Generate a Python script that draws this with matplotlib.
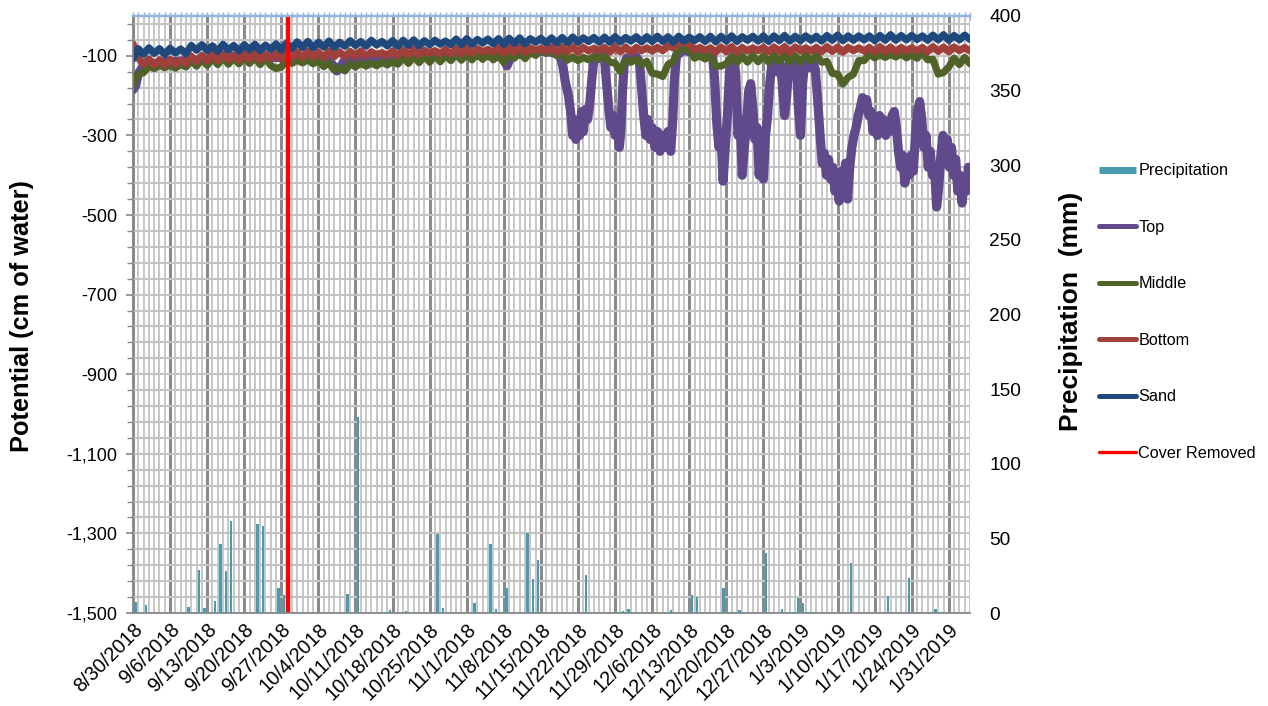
"""Soil water potential at four depths vs. daily precipitation, Aug 2018 - Feb 2019."""
import datetime as dt

import matplotlib
matplotlib.use("Agg")
import matplotlib.pyplot as plt
from matplotlib.lines import Line2D
from matplotlib.ticker import FixedLocator, FuncFormatter, MultipleLocator
import matplotlib.dates as mdates
import numpy as np

plt.rcParams["font.family"] = ["Liberation Sans", "DejaVu Sans"]

START = dt.datetime(2018, 8, 30)
END = dt.datetime(2019, 2, 4)
COVER_REMOVED_DAY = 29.25          # days after START

# daily readings, cm of water (index = days after 8/30/2018)
sand = [-108, -82, -96, -80, -94, -82, -97, -81, -93, -83,
        -95, -74, -86, -72, -87, -75, -89, -71, -86, -74,
        -88, -72, -85, -71, -87, -73, -84, -70, -86, -68,
        -82, -65, -79, -64, -80, -66, -78, -63, -79, -66,
        -76, -62, -74, -64, -76, -61, -73, -64, -75, -62,
        -76, -61, -74, -60, -75, -62, -72, -61, -71, -63,
        -72, -58, -72, -57, -71, -59, -68, -58, -70, -57,
        -71, -56, -69, -55, -70, -57, -66, -56, -68, -55,
        -68, -54, -67, -53, -66, -55, -64, -54, -66, -53,
        -66, -52, -65, -54, -63, -52, -65, -52, -64, -51,
        -64, -52, -66, -51, -63, -53, -62, -52, -64, -51,
        -65, -51, -63, -50, -64, -52, -61, -51, -63, -50,
        -64, -50, -62, -49, -63, -51, -62, -50, -61, -51,
        -63, -49, -61, -48, -62, -50, -61, -50, -60, -50,
        -62, -49, -61, -47, -61, -49, -60, -49, -59, -50,
        -61, -48, -60, -47, -61, -49, -60, -48, -59]

bottom = [-70, -106, -121, -108, -123, -110, -124, -109, -122, -111,
          -119, -101, -115, -99, -113, -97, -112, -96, -110, -98,
          -111, -95, -109, -94, -110, -96, -108, -93, -109, -92,
          -105, -90, -104, -89, -103, -91, -104, -88, -102, -90,
          -103, -89, -102, -88, -101, -90, -97, -92, -99, -88,
          -100, -85, -98, -84, -97, -86, -93, -87, -95, -84,
          -96, -82, -95, -81, -94, -82, -90, -84, -91, -80,
          -93, -79, -92, -78, -91, -80, -87, -81, -89, -78,
          -91, -78, -90, -77, -91, -79, -88, -81, -87, -79,
          -91, -77, -90, -78, -91, -79, -87, -80, -88, -79,
          -87, -75, -80, -68, -66, -70, -85, -79, -87, -80,
          -91, -78, -90, -77, -91, -79, -88, -80, -87, -79,
          -90, -78, -89, -77, -91, -78, -87, -80, -88, -79,
          -90, -77, -89, -78, -91, -79, -87, -80, -88, -79,
          -90, -77, -89, -78, -90, -79, -87, -80, -88, -79,
          -90, -77, -89, -78, -90, -78, -87, -79, -88]

middle = [-175, -146, -142, -126, -132, -124, -130, -122, -131, -121,
          -128, -111, -126, -108, -124, -106, -122, -104, -121, -105,
          -120, -103, -119, -104, -122, -106, -124, -132, -128, -112,
          -119, -111, -118, -110, -120, -112, -127, -118, -136, -130,
          -138, -120, -128, -119, -126, -118, -125, -116, -123, -114,
          -121, -104, -119, -101, -117, -100, -116, -99, -115, -98,
          -112, -95, -111, -94, -110, -93, -109, -94, -110, -100,
          -116, -98, -106, -91, -107, -90, -99, -84, -94, -84,
          -100, -94, -111, -103, -112, -104, -110, -102, -109, -100,
          -116, -118, -140, -112, -116, -108, -122, -114, -144, -146,
          -152, -122, -114, -82, -84, -84, -106, -100, -108, -99,
          -126, -126, -120, -102, -117, -100, -116, -99, -115, -100,
          -116, -99, -114, -98, -115, -100, -116, -98, -113, -99,
          -116, -114, -144, -146, -171, -154, -146, -112, -112, -96,
          -105, -97, -104, -96, -103, -95, -105, -97, -106, -92,
          -110, -109, -146, -142, -128, -106, -122, -104, -120]

# the top sensor swings fast, so it is read at irregular times
top_days = [0, 0.5, 1, 2, 5, 10, 20, 30, 37, 38.5, 40, 50, 60, 69.5, 70.6,
            71.5, 78, 80, 80.6,
            81.2, 81.6, 82.2, 82.6, 83.0, 83.3, 83.6, 84.0, 84.3, 84.7, 85.0,
            85.4, 85.8, 86.2, 86.6, 87.0, 87.5, 88.0, 88.5, 89.0, 89.4, 89.8,
            90.2, 90.6, 91.0, 91.4, 91.8, 92.1, 92.4, 92.7, 93.2, 94, 95,
            95.6, 96.0, 96.4, 96.8, 97.2, 97.6, 98.0, 98.5, 99.0, 99.5, 100.0,
            100.5, 101.0, 101.5, 101.9, 102.2, 102.6, 104, 106, 108, 109.4,
            109.8, 110.2, 110.6, 111.0, 111.4, 111.8, 112.2, 112.6, 113.0,
            113.4, 113.8, 114.2, 114.6, 115.0, 115.4, 115.8, 116.2, 116.6,
            117.0, 117.4, 117.8, 118.2, 118.6, 119.0, 119.4, 119.8, 120.2,
            120.6, 121.0, 121.5, 122.0, 122.5, 123.0, 123.4, 123.8, 124.3,
            124.8, 125.2, 125.6, 126.0, 126.4, 126.8, 127.3, 127.8, 128.3,
            128.8, 129.3, 129.7, 130.1, 130.5, 130.9, 131.3, 131.7, 132.1,
            132.5, 132.9, 133.3, 133.7, 134.1, 134.5, 134.9, 135.3, 135.7,
            136.1, 136.5, 136.9, 137.3, 137.7, 138.1, 138.5, 138.9, 139.3,
            139.7, 140.1, 140.5, 140.9, 141.3, 141.7, 142.1, 142.5, 142.9,
            143.3, 143.7, 144.1, 144.5, 144.9, 145.3, 145.7, 146.1, 146.5,
            146.9, 147.3, 147.7, 148.1, 148.5, 148.9, 149.3, 149.7, 150.1,
            150.5, 150.9, 151.3, 151.7, 152.1, 152.5, 152.9, 153.3, 153.7,
            154.1, 154.5, 154.9, 155.3, 155.7, 156.1, 156.5, 156.9, 157.3,
            157.7, 158.0]
top_vals = [-185, -175, -145, -125, -118, -112, -105, -104, -110, -138, -112,
            -102, -98, -100, -125, -98, -88, -95, -100,
            -130, -165, -200, -240, -300, -260, -310, -270, -300, -240, -290,
            -235, -260, -225, -160, -110, -100, -105, -98, -108, -170, -230,
            -280, -250, -300, -270, -330, -290, -190, -125, -105, -110, -102,
            -115, -180, -250, -300, -260, -310, -280, -330, -290, -340, -300,
            -330, -290, -340, -260, -160, -100, -85, -95, -92, -100,
            -160, -270, -330, -300, -415, -330, -250, -140, -110,
            -100, -150, -300, -260, -400, -330, -280, -190, -170,
            -230, -310, -280, -400, -330, -410, -300, -250, -170,
            -120, -110, -140, -115, -160, -250, -200, -120, -110,
            -140, -115, -230, -300, -170, -115, -110, -130, -112,
            -135, -220, -300, -370, -345, -400, -360, -410, -380,
            -440, -400, -465, -390, -440, -370, -460, -380, -330,
            -300, -280, -250, -230, -205, -230, -210, -250, -240,
            -290, -260, -300, -250, -280, -260, -300, -270, -290,
            -250, -240, -280, -340, -380, -350, -420, -370, -400,
            -350, -390, -300, -240, -215, -260, -330, -300, -380,
            -340, -400, -380, -480, -430, -350, -300, -340, -310,
            -380, -330, -400, -360, -440, -400, -470, -410, -440,
            -380, -420]

# daily precipitation, mm (day index after 8/30/2018)
precip_days = [0, 2, 10, 12, 13, 15, 16, 17, 18, 23, 24, 27, 28, 40, 42, 47,
               48, 51, 57, 58, 64, 67, 68, 70, 74, 75, 76, 85, 91, 92, 93,
               101, 105, 106, 111, 112, 114, 119, 122, 124, 125, 126, 127,
               135, 142, 146, 151]
precip_mm = [7.6, 5.3, 4.2, 28.8, 3.3, 8.2, 46, 28.3, 61.5, 59.5, 58.2, 17,
             12, 12.5, 131, 0.5, 2, 1.5, 52.6, 3.5, 7, 46, 2.5, 17, 53.3,
             22.5, 35.5, 25.4, 0.5, 1.5, 3, 2, 12, 11, 16.5, 1, 2, 40, 2.5,
             0.5, 10.3, 6.5, 0.5, 33.7, 11.4, 23.2, 3]

C_PRECIP = "#4A9BB0"
C_TOP = "#604A8C"
C_MIDDLE = "#4F6228"
C_BOTTOM = "#A0403C"
C_SAND = "#1F497D"
C_COVER = "#FF0000"


def to_dates(days, offset=0.0):
    return [START + dt.timedelta(days=float(d) + offset) for d in days]


def date_label(x, pos):
    d = mdates.num2date(x)
    return f"{d.month}/{d.day}/{d.year}"


fig = plt.figure(figsize=(12.68, 7.06), dpi=100)
ax = fig.add_axes([133 / 1268, 1 - 613 / 706, 837 / 1268, 597 / 706])

line_kw = dict(lw=5.2, solid_capstyle="round", solid_joinstyle="round")
ax.plot(to_dates(top_days), top_vals, color=C_TOP, **dict(line_kw, lw=6.6))
ax.plot(to_dates(range(len(middle))), middle, color=C_MIDDLE, **line_kw)
ax.plot(to_dates(range(len(bottom))), bottom, color=C_BOTTOM, **line_kw)
ax.plot(to_dates(range(len(sand))), sand, color=C_SAND, **line_kw)
ax.axvline(START + dt.timedelta(days=COVER_REMOVED_DAY), color=C_COVER, lw=3.2)

ax.set_xlim(START, END)
ax.set_ylim(-1500, 0)

# x axis: weekly labels, daily minor grid
ax.xaxis.set_major_locator(FixedLocator(
    mdates.date2num(to_dates(range(0, 158, 7)))))
ax.xaxis.set_minor_locator(FixedLocator(
    mdates.date2num(to_dates(range(0, 159)))))
ax.xaxis.set_major_formatter(FuncFormatter(date_label))
ax.tick_params(axis="x", which="both", length=0, labelsize=14.3, pad=5)
for lab in ax.get_xticklabels():
    lab.set_rotation(45)
    lab.set_ha("right")
    lab.set_rotation_mode("anchor")

# y axis: labels every 200, minor grid every 40
ax.yaxis.set_major_locator(FixedLocator(np.arange(-1500, 0, 200)))
ax.yaxis.set_minor_locator(FixedLocator(np.arange(-1500, 0, 40)))
ax.yaxis.set_major_formatter(FuncFormatter(lambda v, p: f"{int(v):,}"))
ax.tick_params(axis="y", which="major", length=5, width=1.2,
               color="#868686", labelsize=13, pad=6)
ax.tick_params(axis="y", which="minor", length=4, width=1.0, color="#868686")

ax.grid(axis="x", which="minor", color="#C3C3C3", lw=1.3)
ax.grid(axis="x", which="major", color="#8A8A8A", lw=2.2)
ax.grid(axis="y", which="both", color="#C3C3C3", lw=1.5)
ax.set_axisbelow(True)

ax.spines["right"].set_visible(False)
ax.spines["left"].set_color("#868686")
ax.spines["bottom"].set_color("#868686")
ax.spines["left"].set_linewidth(1.3)
ax.spines["bottom"].set_linewidth(1.3)
ax.spines["top"].set_color("#8EB4E3")
ax.spines["top"].set_linewidth(1.6)

# secondary category axis along the top (daily ticks)
top_axis = ax.secondary_xaxis("top")
top_axis.xaxis.set_major_locator(FixedLocator(
    mdates.date2num(to_dates(range(0, 159)))))
top_axis.tick_params(axis="x", length=6, width=1.0, color="#8EB4E3",
                     direction="inout", labeltop=False)
top_axis.spines["top"].set_color("#8EB4E3")
top_axis.spines["top"].set_linewidth(1.6)

# precipitation on the right axis
ax2 = ax.twinx()
ax2.bar(to_dates(precip_days, offset=0.5), precip_mm, width=0.45,
        color=C_PRECIP, zorder=1)
ax2.set_ylim(0, 400)
ax2.yaxis.set_major_locator(MultipleLocator(50))
ax2.tick_params(axis="y", length=0, labelsize=13.8, pad=14)
for side in ("right", "left", "bottom", "top"):
    ax2.spines[side].set_visible(False)

fig.text(22 / 1268, 1 - 316 / 706, "Potential (cm of water)", rotation=90,
         ha="center", va="center", fontsize=18.3, fontweight="bold")
fig.text(1071 / 1268, 1 - 311 / 706, "Precipitation  (mm)", rotation=90,
         ha="center", va="center", fontsize=19, fontweight="bold")

handles = [
    Line2D([], [], color=C_PRECIP, lw=5, solid_capstyle="butt"),
    Line2D([], [], color=C_TOP, lw=3.6, solid_capstyle="round"),
    Line2D([], [], color=C_MIDDLE, lw=3.6, solid_capstyle="round"),
    Line2D([], [], color=C_BOTTOM, lw=3.6, solid_capstyle="round"),
    Line2D([], [], color=C_SAND, lw=3.6, solid_capstyle="round"),
    Line2D([], [], color=C_COVER, lw=2.4, solid_capstyle="round"),
]
labels = ["Precipitation", "Top", "Middle", "Bottom", "Sand", "Cover Removed"]
fig.legend(handles, labels, loc="upper left",
           bbox_to_anchor=(1092 / 1268, 1 - 157 / 706), frameon=False,
           fontsize=11.7, handlelength=2.3, handletextpad=0.15,
           labelspacing=2.55, borderaxespad=0)

fig.savefig("out.png", dpi=100)
